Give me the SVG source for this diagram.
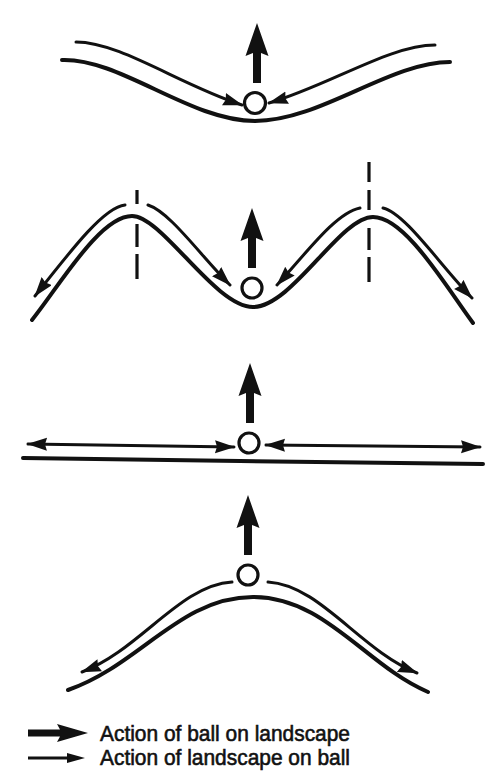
<svg xmlns="http://www.w3.org/2000/svg" width="496" height="781" viewBox="0 0 496 781">
<style>
.ground{fill:none;stroke:#111;stroke-width:4;stroke-linecap:round}
.act{fill:none;stroke:#111;stroke-width:3;stroke-linecap:round}
.dash{fill:none;stroke:#111;stroke-width:3.2}
.ball{fill:#fff;stroke:#111;stroke-width:3.2}
.big{fill:#111}
.lbl{font-family:"Liberation Sans",Arial,sans-serif;font-size:22px;fill:#111;stroke:#111;stroke-width:0.6}
</style>
<defs>
<marker id="ah" markerUnits="userSpaceOnUse" markerWidth="22" markerHeight="14" refX="19" refY="6.5" orient="auto-start-reverse">
<path d="M0,0 L20,6.5 L0,13 L2,6.5 Z" fill="#111"/>
</marker>
<path id="bigArrow" d="M0,0 L11.5,33 L4,30 L4,60 L-4,60 L-4,30 L-11.5,33 Z"/>
</defs>
<rect width="496" height="781" fill="#fff"/>

<g id="panel1">
<path class="ground" d="M62,60 C120,58 190,121 255,121 C320,121 390,62 450,62"/>
<use href="#bigArrow" class="big" x="257" y="23"/>
<circle class="ball" cx="255" cy="103" r="10.5"/>
</g>

<g id="panel2">
<path class="ground" d="M32,320 C60,285 100,216 132,216 C162,216 215,307 253,307 C292,307 340,217 373,217 C405,217 445,285 473,323"/>
<path class="dash" d="M137,190 V204 M137,224 V247 M137,254 V279"/>
<path class="dash" d="M369,162 V182 M369,190 V210 M369,228 V250 M369,257 V282"/>
<use href="#bigArrow" class="big" x="252" y="208"/>
<circle class="ball" cx="252" cy="288" r="10"/>
</g>

<g id="panel3">
<path class="ground" d="M23,458 L240,461 L483,464" stroke-width="4.5"/>
<use href="#bigArrow" class="big" x="250" y="363"/>
<circle class="ball" cx="249" cy="443" r="10"/>
</g>

<g id="panel4">
<path class="ground" d="M68,690 C140,665 180,597 253,597 C325,597 365,665 428,692"/>
<use href="#bigArrow" class="big" x="248" y="495"/>
<circle class="ball" cx="248" cy="575" r="10"/>
</g>

<g id="connectors">
<path class="act" marker-end="url(#ah)" d="M76,42 C120,42 180,85 242,105"/>
<path class="act" marker-end="url(#ah)" d="M435,45 C390,45 330,85 269,103"/>
<path class="act" marker-end="url(#ah)" d="M125,205 C105,207 75,245 35,296"/>
<path class="act" marker-end="url(#ah)" d="M148,205 C170,212 200,255 230,285"/>
<path class="act" marker-end="url(#ah)" d="M360,208 C335,213 305,255 277,285"/>
<path class="act" marker-end="url(#ah)" d="M383,208 C405,213 440,265 472,298"/>
<path class="act" marker-start="url(#ah)" marker-end="url(#ah)" d="M28,444 L234,447"/>
<path class="act" marker-start="url(#ah)" marker-end="url(#ah)" d="M266,445 L480,447"/>
<path class="act" marker-end="url(#ah)" d="M232,582 C180,585 140,650 82,672"/>
<path class="act" marker-end="url(#ah)" d="M268,582 C320,585 360,650 417,673"/>
</g>

<g id="legend">
<path class="big" d="M28,729.5 L60,729.5 L57,724 L88,733 L57,742 L60,736.5 L28,736.5 Z"/>
<path d="M28,758 L70,758" stroke="#111" stroke-width="2.8"/>
<path class="big" d="M67,753 L85,758 L67,763 Z"/>
<text class="lbl" x="100" y="741" textLength="250" lengthAdjust="spacingAndGlyphs">Action of ball on landscape</text>
<text class="lbl" x="100" y="765" textLength="250" lengthAdjust="spacingAndGlyphs">Action of landscape on ball</text>
</g>
</svg>
